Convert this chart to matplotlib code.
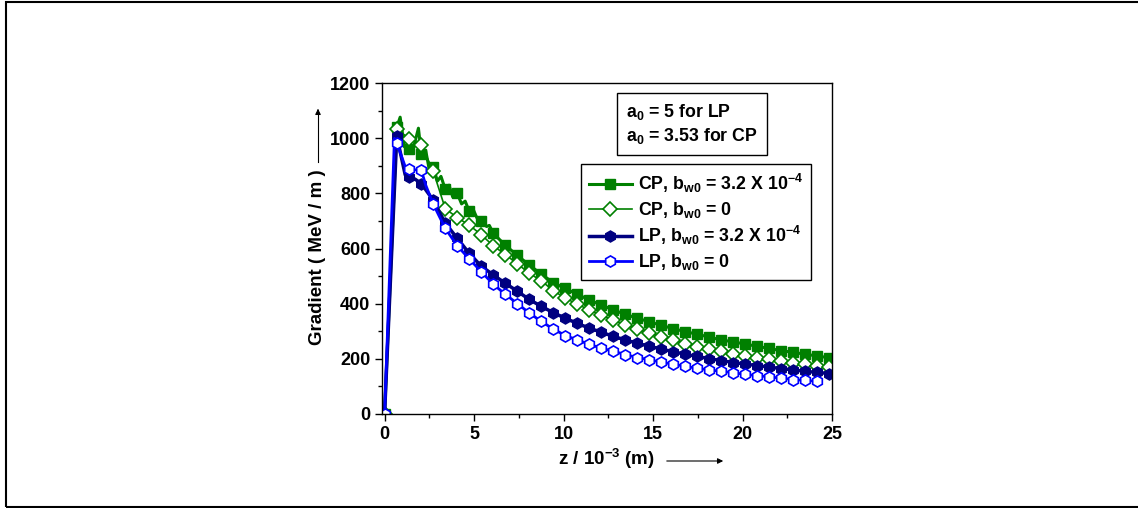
# Gradient vs z for circular / linear polarisation, with and without b_w0
import numpy as np
import matplotlib.pyplot as plt
from matplotlib.patches import Rectangle

plt.rcParams['font.family'] = 'Liberation Sans'
plt.rcParams['font.weight'] = 'bold'
plt.rcParams['mathtext.fontset'] = 'custom'
plt.rcParams['mathtext.rm'] = 'Liberation Sans:bold'
plt.rcParams['mathtext.it'] = 'Liberation Sans:bold'
plt.rcParams['mathtext.bf'] = 'Liberation Sans:bold'

# z positions (10^-3 m) of the plotted symbols
z = [0, 0.68, 1.39, 2.05, 2.72, 3.39, 4.06, 4.73, 5.40, 6.07, 6.74, 7.41, 8.08,
     8.75, 9.42, 10.09, 10.76, 11.43, 12.10, 12.77, 13.44, 14.11, 14.78, 15.45,
     16.12, 16.79, 17.46, 18.13, 18.80, 19.47, 20.14, 20.81, 21.48, 22.15,
     22.82, 23.49, 24.16, 24.83]

# gradient (MeV/m)
cp_b = [0, 1040, 960, 945, 895, 815, 800, 735, 700, 655, 612, 575, 540, 507,
        476, 455, 434, 413, 395, 377, 361, 347, 334, 321, 309, 298, 289, 278,
        268, 261, 253, 245, 237, 229, 223, 216, 210, 203]
cp_0 = [0, 1033, 999, 977, 880, 745, 712, 685, 650, 610, 578, 545, 510, 483,
        447, 420, 398, 377, 358, 340, 323, 307, 293, 280, 267, 255, 244, 234,
        226, 218, 210, 203, 197, 191, 185, 180, 175, 170]
lp_b = [0, 1008, 860, 836, 775, 692, 637, 582, 536, 504, 474, 445, 415, 390,
        367, 347, 328, 311, 296, 281, 268, 256, 245, 235, 225, 216, 208, 200,
        193, 186, 180, 175, 169, 164, 159, 154, 150, 146]
lp_0 = [0, 983, 890, 884, 761, 673, 610, 562, 516, 470, 434, 400, 366, 335,
        308, 284, 268, 252, 238, 227, 215, 204, 196, 187, 180, 172, 165, 159,
        154, 149, 143, 138, 134, 129, 124, 121, 118]

# extra line points (no symbol) in the oscillating part near the peak
cp_b_xz = [0.87, 1.1, 1.6, 1.89, 2.3, 2.5, 2.95, 3.15, 3.6, 3.8, 4.3, 4.5,
           4.95, 5.15, 5.7, 5.85]
cp_b_xg = [1077, 970, 962, 1037, 955, 885, 845, 862, 830, 788, 762, 772,
           742, 712, 680, 684]
lp_b_xz = [1.15, 1.7]
lp_b_xg = [868, 852]
lp_0_xz = [0.55, 1.15, 1.7, 2.3]
lp_0_xg = [1000, 898, 886, 830]


def merge(zm, gm, zx, gx):
    zz = np.concatenate([zm, zx])
    gg = np.concatenate([gm, gx])
    order = np.argsort(zz, kind='stable')
    marks = [int(np.where(order == i)[0][0]) for i in range(len(zm))]
    return zz[order], gg[order], marks


fig = plt.figure(figsize=(11.38, 5.08), dpi=100)
ax = fig.add_axes([0.3359, 0.1856, 0.3954, 0.6504])

green = '#008000'
navy = '#000080'
blue = '#0000ff'

zz, gg, mk = merge(z, cp_b, cp_b_xz, cp_b_xg)
ax.plot(zz, gg, '-', color=green, lw=2.2, marker='s', ms=6.5, markevery=mk,
        mfc=green, mec=green, label=r'CP, b$_{w0}$ = 3.2 X 10$^{-4}$')
ax.plot(z, cp_0, '-', color=green, lw=1.2, marker='D', ms=7, mfc='white',
        mec=green, mew=1.2, label=r'CP, b$_{w0}$ = 0')
zz, gg, mk = merge(z, lp_b, lp_b_xz, lp_b_xg)
ax.plot(zz, gg, '-', color=navy, lw=2.5, marker='h', ms=8, markevery=mk,
        mfc=navy, mec=navy, label=r'LP, b$_{w0}$ = 3.2 X 10$^{-4}$')
zz, gg, mk = merge(z[:len(lp_0)], lp_0, lp_0_xz, lp_0_xg)
ax.plot(zz, gg, '-', color=blue, lw=2.0, marker='h', ms=8, markevery=mk,
        mfc='white', mec=blue, mew=1.2, label=r'LP, b$_{w0}$ = 0')

ax.set_xlim(-0.13, 25)
ax.set_ylim(0, 1200)
ax.set_xticks([0, 5, 10, 15, 20, 25])
ax.set_xticks(np.arange(2.5, 25, 5), minor=True)
ax.set_yticks(np.arange(0, 1201, 200))
ax.set_yticks(np.arange(100, 1200, 200), minor=True)
ax.tick_params(which='both', direction='out', top=False, right=False,
               labelsize=13, pad=3.5)
ax.tick_params(which='major', length=5, width=1)
ax.tick_params(which='minor', length=3, width=1)
for s in ax.spines.values():
    s.set_linewidth(1.0)

leg = ax.legend(loc='upper left', bbox_to_anchor=(581 / 1138, 1 - 164.3 / 508),
                bbox_transform=fig.transFigure, fontsize=12.8, frameon=True,
                fancybox=False, edgecolor='black', framealpha=1,
                handlelength=2.4, handletextpad=0.35, labelspacing=0.25,
                borderpad=0.45, borderaxespad=0)
leg.get_frame().set_linewidth(1.0)

fig.text(626 / 1138, 1 - 124 / 508, 'a$_0$ = 5 for LP\na$_0$ = 3.53 for CP',
         fontsize=12.8, ha='left', va='center', linespacing=1.3,
         bbox=dict(boxstyle='square,pad=0.5', fc='white', ec='black', lw=1.0))

# axis titles with arrows
fig.text(318 / 1138, 1 - 257 / 508, 'Gradient ( MeV / m )', rotation=90,
         fontsize=13.5, ha='center', va='center')
fig.text(606.5 / 1138, 1 - 459 / 508, r'z / 10$^{-3}$ (m)', fontsize=13.5,
         ha='center', va='center')
fig.add_artist(plt.Line2D([318 / 1138, 318 / 1138], [1 - 162 / 508, 1 - 112 / 508],
                          color='black', lw=0.8))
ax.annotate('', xy=(318 / 1138, 1 - 106 / 508), xytext=(318 / 1138, 1 - 114 / 508),
            xycoords='figure fraction',
            arrowprops=dict(arrowstyle='-|>', color='black', lw=0.8,
                            mutation_scale=8))
ax.annotate('', xy=(726 / 1138, 1 - 461 / 508), xytext=(664 / 1138, 1 - 461 / 508),
            xycoords='figure fraction',
            arrowprops=dict(arrowstyle='-|>', color='black', lw=0.8,
                            mutation_scale=8))

# outer frame
fig.add_artist(Rectangle((5.7 / 1138, 1.5 / 508), 1.2, 505 / 508,
                         transform=fig.transFigure, fill=False,
                         ec='black', lw=1.5, clip_on=False))

fig.savefig('out.png', dpi=100)
